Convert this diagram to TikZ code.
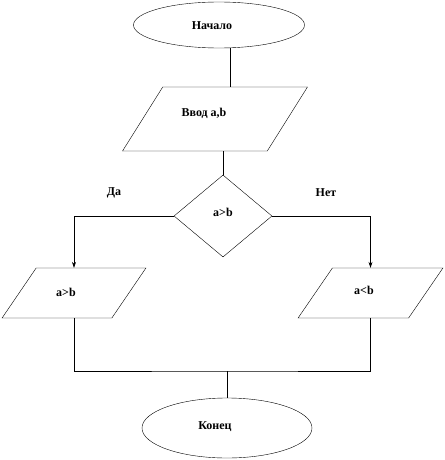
\documentclass[tikz,border=0pt]{standalone}
\usepackage{fontspec}
\setmainfont{Liberation Serif}
\usetikzlibrary{arrows.meta,shapes.geometric}
\tikzset{
  terminal/.style={draw, ellipse, inner sep=0pt},
  iobox/.style={draw, trapezium, trapezium stretches=true, inner sep=0pt},
  decision/.style={draw, diamond, inner sep=0pt},
  link/.style={line width=0.6pt, draw=black},
  flowarrow/.style={link, -{Stealth[length=6pt,width=4pt]}}
}

\begin{document}
\begin{tikzpicture}[x=1pt,y=-1pt,font=\fontsize{12}{14}\selectfont\bfseries]
  \useasboundingbox (0,0) rectangle (444,460);
  % Blocks
  \node (start) [terminal, minimum width=171pt, minimum height=46pt] at (219,25) {};
  \node (inp) [iobox, minimum width=185pt, minimum height=64pt,
    trapezium left angle=61, trapezium right angle=119] at (215,119) {\phantom{M}};
  \node (cond) [decision, minimum width=98pt, minimum height=82pt] at (223,216) {};
  \node (yes) [iobox, minimum width=144pt, minimum height=50pt,
    trapezium left angle=57, trapezium right angle=123] at (74,293) {\phantom{M}};
  \node (no) [iobox, minimum width=145pt, minimum height=50pt,
    trapezium left angle=57, trapezium right angle=123] at (370.5,293) {\phantom{M}};
  \node (end) [terminal, minimum width=170pt, minimum height=60pt] at (227,428) {};
  % Texts (a little off centre, as drawn)
  \node (starttxt) at (212,26) {Начало};
  \node (inptxt) at (204,113) {Ввод a,b};
  \node (condtxt) at (223,212) {a>b};
  \node (yestxt) at (66,292) {a>b};
  \node (notxt) at (364,290) {a<b};
  \node (endtxt) at (215,427) {Конец};
  % Branch labels
  \node (yeslbl) at (114,193) {Да};
  \node (nolbl) at (326,193) {Нет};
  \coordinate (merge) at (227,371);
  % Edges
  \draw[link] ([xshift=11pt]start.south) -- ([xshift=11pt]start.south |- inp.north);
  \draw[link] (cond.north |- inp.south) -- (cond.north);
  \draw[flowarrow] (cond.west) -| (yes.north);
  \draw[flowarrow] (cond.east) -| (no.north);
  \draw[link] (yes.south) |- (merge) -| (no.south);
  \draw[link] (merge) -- (end.north);
\end{tikzpicture}
\end{document}
